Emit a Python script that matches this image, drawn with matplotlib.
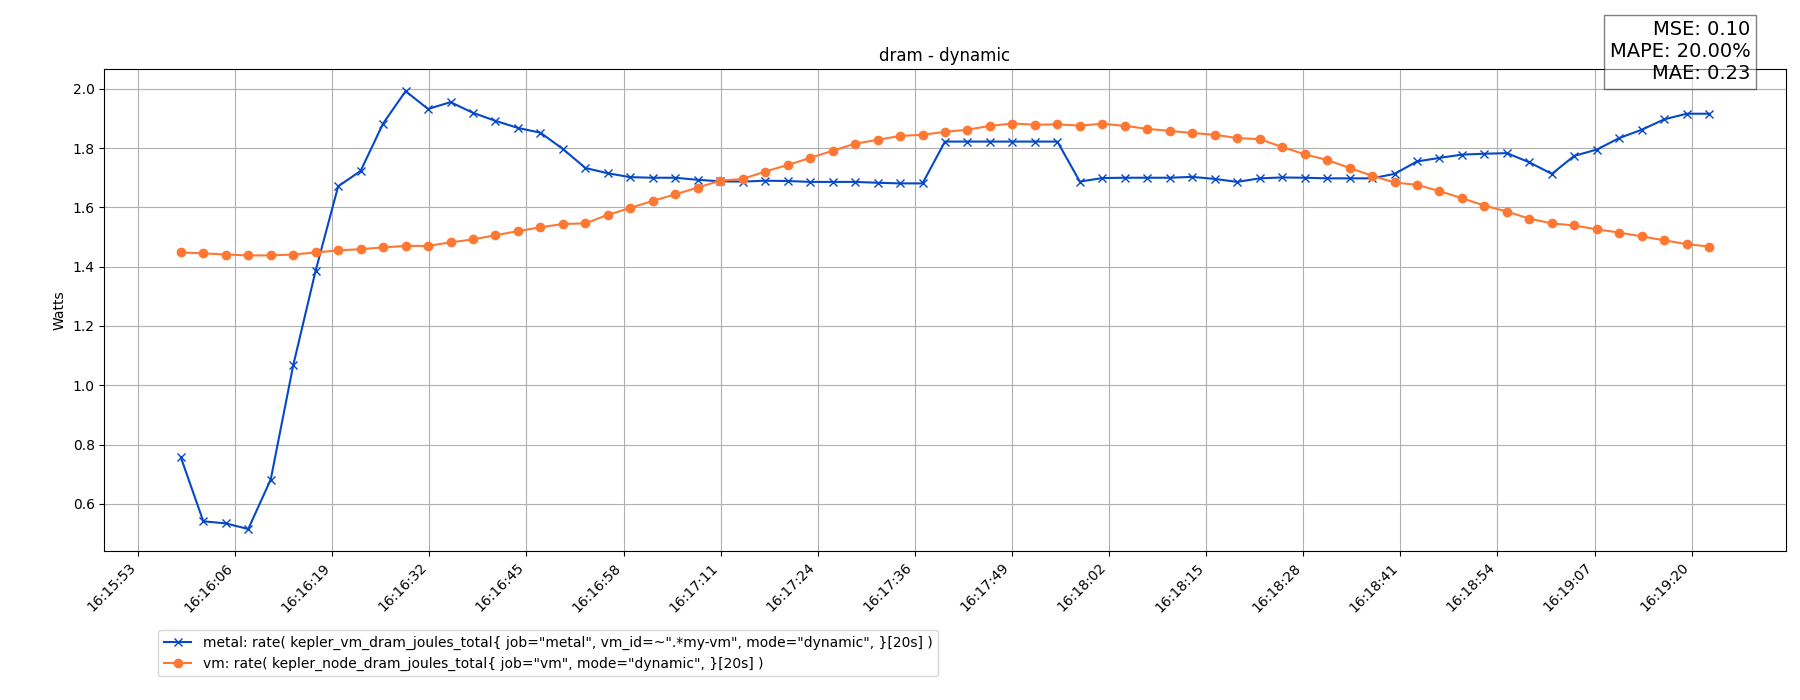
import pandas as pd
import matplotlib
matplotlib.use("Agg")
import matplotlib.pyplot as plt
import matplotlib.dates as mdates

# samples every 3 s
start_time = "2024-01-01 16:15:59"
n_points = 69

metal = [0.757, 0.541, 0.534, 0.515, 0.682, 1.067, 1.387, 1.671, 1.723, 1.883,
         1.992, 1.932, 1.955, 1.919, 1.892, 1.868, 1.852, 1.797, 1.733, 1.715,
         1.702, 1.700, 1.700, 1.693, 1.688, 1.687, 1.690, 1.689, 1.686, 1.686,
         1.686, 1.683, 1.681, 1.681, 1.822, 1.822, 1.822, 1.822, 1.822, 1.822,
         1.687, 1.699, 1.700, 1.700, 1.700, 1.703, 1.696, 1.686, 1.698, 1.701,
         1.700, 1.698, 1.698, 1.698, 1.713, 1.755, 1.767, 1.778, 1.781, 1.783,
         1.752, 1.713, 1.774, 1.795, 1.834, 1.862, 1.897, 1.916, 1.916]

vm = [1.448, 1.445, 1.441, 1.438, 1.438, 1.441, 1.448, 1.455, 1.459, 1.465,
      1.470, 1.470, 1.482, 1.492, 1.506, 1.520, 1.533, 1.544, 1.546, 1.575,
      1.598, 1.622, 1.644, 1.667, 1.690, 1.696, 1.721, 1.743, 1.767, 1.791,
      1.815, 1.828, 1.841, 1.845, 1.855, 1.862, 1.875, 1.883, 1.879, 1.880,
      1.876, 1.882, 1.875, 1.865, 1.858, 1.851, 1.845, 1.834, 1.830, 1.804,
      1.779, 1.760, 1.733, 1.707, 1.684, 1.676, 1.655, 1.631, 1.606, 1.586,
      1.562, 1.546, 1.539, 1.526, 1.515, 1.502, 1.489, 1.476, 1.468]

tick_labels = ["16:15:53", "16:16:06", "16:16:19", "16:16:32", "16:16:45",
               "16:16:58", "16:17:11", "16:17:24", "16:17:36", "16:17:49",
               "16:18:02", "16:18:15", "16:18:28", "16:18:41", "16:18:54",
               "16:19:07", "16:19:20"]

metal_label = 'metal: rate( kepler_vm_dram_joules_total{ job="metal", vm_id=~".*my-vm", mode="dynamic", }[20s] )'
vm_label = 'vm: rate( kepler_node_dram_joules_total{ job="vm", mode="dynamic", }[20s] )'
metrics_text = "MSE: 0.10\nMAPE: 20.00%\nMAE: 0.23"

times = pd.date_range(start_time, periods=n_points, freq="3s")
tick_times = pd.date_range("2024-01-01 16:15:53.3", periods=len(tick_labels), freq="12960ms")

fig = plt.figure(figsize=(18, 7), dpi=100)
ax = fig.add_axes([0.058, 0.213, 0.934, 0.688])

ax.plot(times, metal, marker="x", color="#0548c8", label=metal_label)
ax.plot(times, vm, marker="o", color="#ff7833", label=vm_label)

ax.set_xticks(mdates.date2num(tick_times.to_pydatetime()))
ax.set_xticklabels(tick_labels, rotation=45, ha="right")
ax.set_title("dram - dynamic")
ax.set_ylabel("Watts")
ax.grid(True)

ax.text(0.979, 1.102, metrics_text, transform=ax.transAxes, ha="right", va="top",
        fontsize=14, bbox=dict(facecolor="white", alpha=0.5))

fig.legend(loc="upper left", bbox_to_anchor=(0.084, 0.11))

fig.savefig("out.png")
